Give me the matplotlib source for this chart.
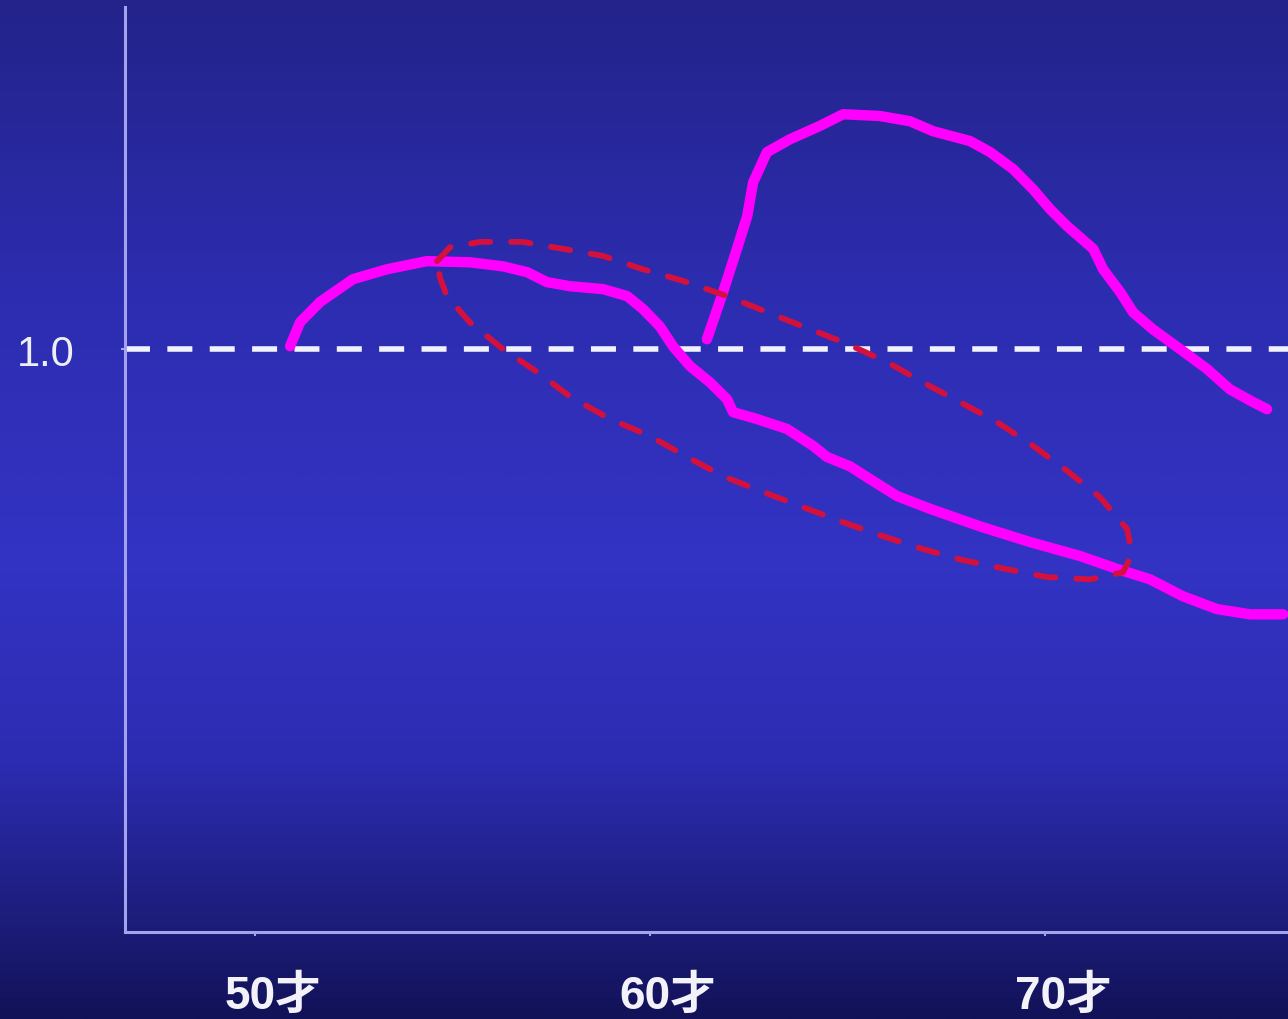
import numpy as np
import matplotlib
matplotlib.use("Agg")
import matplotlib.pyplot as plt
import matplotlib.transforms as mtransforms
from matplotlib.colors import LinearSegmentedColormap

plt.rcParams['lines.scale_dashes'] = False

# Age axis
tick_ages = [50, 60, 70]
tick_labels = ["50才", "60才", "70才"]
reference_level = 1.0
reference_label = "1.0"

# Lower curve: rises just after 50, falls below 1.0 after 60
curve_a_age = [50.89, 51.14, 51.65, 52.48, 53.34, 54.35, 55.44, 56.28, 56.89, 57.39,
               57.97, 58.81, 59.42, 59.82, 60.25, 60.58, 61.01, 61.52, 61.95, 62.10,
               62.71, 63.47, 64.13, 64.48, 65.06, 65.57, 66.25, 67.09, 68.35, 69.62,
               70.89, 71.82, 72.66, 73.49, 74.35, 75.19, 76.03]
curve_a_val = [1.005, 1.046, 1.081, 1.120, 1.137, 1.151, 1.149, 1.142, 1.132, 1.115,
               1.108, 1.103, 1.091, 1.069, 1.039, 1.005, 0.971, 0.943, 0.914, 0.892,
               0.880, 0.863, 0.834, 0.815, 0.799, 0.777, 0.748, 0.726, 0.696, 0.669,
               0.645, 0.623, 0.605, 0.576, 0.554, 0.545, 0.545]

# Upper curve: sharp peak in the mid-60s
curve_b_age = [61.44, 61.85, 62.20, 62.46, 62.61, 62.96, 63.54, 64.30, 64.89, 65.82,
               66.58, 67.16, 68.10, 68.61, 69.19, 69.70, 70.13, 70.56, 71.22, 71.47,
               71.90, 72.23, 72.73, 73.42, 74.10, 74.68, 75.27, 75.62]
curve_b_val = [1.017, 1.098, 1.172, 1.228, 1.286, 1.338, 1.360, 1.383, 1.403, 1.400,
               1.391, 1.374, 1.357, 1.338, 1.309, 1.274, 1.240, 1.211, 1.172, 1.137,
               1.098, 1.063, 1.034, 1.000, 0.966, 0.931, 0.909, 0.897]

# Dashed outline enclosing the declining segment
loop_age = [54.61, 54.94, 55.70, 56.78, 57.80, 58.81, 59.82, 60.84, 61.95, 62.91,
            63.87, 64.89, 66.00, 66.91, 67.85, 68.78, 69.70, 70.56, 71.39, 72.08,
            72.20, 71.97, 71.14, 70.05, 68.99, 67.92, 66.91, 65.90, 64.89, 63.87,
            62.86, 61.85, 60.94, 60.00, 58.99, 57.97, 57.14, 56.28, 55.44, 54.86,
            54.68, 54.61]
loop_val = [1.151, 1.175, 1.184, 1.184, 1.172, 1.160, 1.137, 1.117, 1.091, 1.065,
            1.039, 1.012, 0.978, 0.943, 0.909, 0.875, 0.834, 0.791, 0.746, 0.691,
            0.648, 0.617, 0.605, 0.609, 0.623, 0.638, 0.657, 0.679, 0.703, 0.729,
            0.755, 0.782, 0.815, 0.851, 0.880, 0.919, 0.961, 1.000, 1.046, 1.091,
            1.123, 1.151]

W, H = 1288, 1020
fig = plt.figure(figsize=(W / 100, H / 100), dpi=100)

# Vertical blue gradient backdrop
bg = fig.add_axes([0, 0, 1, 1], zorder=0)
bg.set_axis_off()
stops = [(0.00, '#23238a'), (0.30, '#2d2db2'), (0.55, '#3333c4'),
         (0.75, '#2c2cb2'), (0.90, '#1d1d7c'), (1.00, '#121258')]
cmap = LinearSegmentedColormap.from_list('backdrop', stops)
grad = np.linspace(0, 1, 512).reshape(-1, 1)
bg.imshow(grad, cmap=cmap, aspect='auto', extent=[0, 1, 0, 1], origin='upper')

axis_color = '#a2a2ee'
ax = fig.add_axes([125 / W, (H - 933) / H, (W - 125) / W, (933 - 8) / H], zorder=1)
ax.patch.set_alpha(0)
ax.set_xlim(46.71, 76.15)
ax.set_ylim(0, 1.587)
for side in ('top', 'right'):
    ax.spines[side].set_visible(False)
for side in ('left', 'bottom'):
    ax.spines[side].set_color(axis_color)
    ax.spines[side].set_linewidth(2.2)

ax.set_xticks(tick_ages)
ax.set_xticklabels([])
ax.tick_params(axis='x', length=3, width=1.5, color=axis_color, direction='out')
ax.set_yticks([reference_level])
ax.set_yticklabels([reference_label], family='Liberation Sans', fontsize=30,
                   color='#eeeef6')
ax.tick_params(axis='y', length=3, width=1.5, color=axis_color, direction='out', pad=33)

label_tr = mtransforms.offset_copy(ax.get_xaxis_transform(), fig=fig, x=18, y=0, units='dots')
for age, lab in zip(tick_ages, tick_labels):
    ax.text(age, -0.069, lab, transform=label_tr, ha='center', va='center',
            family=['Liberation Sans', 'Noto Sans CJK JP'], weight='bold',
            fontsize=33, color='#f2f2f8', clip_on=False)

# Reference line at 1.0
ax.axhline(reference_level, color='#f2f2fa', lw=4, dashes=(18, 12.5),
           dash_capstyle='butt', zorder=2)

# Curves
ax.plot(curve_a_age, curve_a_val, color='#ff00ff', lw=7.5, solid_capstyle='round',
        solid_joinstyle='round', zorder=3, clip_on=False)
ax.plot(curve_b_age, curve_b_val, color='#ff00ff', lw=7.5, solid_capstyle='round',
        solid_joinstyle='round', zorder=3, clip_on=False)

ax.plot(loop_age, loop_val, color='#d4103c', lw=4.2, dashes=(14, 15),
        dash_capstyle='round', zorder=4)

fig.savefig('out.png', dpi=100)
